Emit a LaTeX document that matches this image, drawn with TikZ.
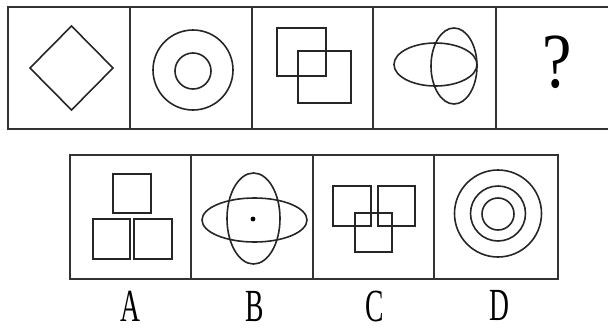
\documentclass[tikz,border=0pt]{standalone}
\usepackage{fontspec}
\setmainfont{Liberation Serif}
\begin{document}
\begin{tikzpicture}[x=1pt,y=-1pt,
  frame/.style={line width=2pt,draw=black!80},
  shp/.style={line width=1.6pt,draw=black!85},
  lbl/.style={inner sep=0pt,font=\fontsize{46}{46}\selectfont,xscale=0.6}]
\useasboundingbox (0,0) rectangle (608,327);
% top row frame
\draw[frame] (608,7) -- (8,7) -- (8,129) -- (608,129);
\foreach \x in {130,252,373,496} \draw[frame] (\x,7) -- (\x,129);
% panel 1 diamond
\draw[shp] (71.5,26) -- (113,68) -- (71.5,110) -- (30,68) -- cycle;
% panel 2 circles
\draw[shp] (193,70) circle (40);
\draw[shp] (193,71) circle (18);
% panel 3 squares
\draw[shp] (277,28) rectangle (326,76);
\draw[shp] (298,51) rectangle (351,103);
% panel 4 ellipses
\draw[shp] (435.5,64.5) ellipse (41.5 and 21.5);
\draw[shp] (454,66) ellipse (23 and 38);
% question mark
\node[inner sep=0pt,font=\fontsize{78}{78}\selectfont,xscale=0.85] (q) at (557,62) {?};
% bottom row frame
\draw[frame] (70,155) rectangle (558,279);
\foreach \x in {191,313,434} \draw[frame] (\x,155) -- (\x,279);
% A squares
\draw[shp] (113,174) rectangle (151,213);
\draw[shp] (93,219) rectangle (130,259);
\draw[shp] (134,219) rectangle (172,259);
% B ellipses
\draw[shp] (254.5,220) ellipse (52.5 and 22);
\draw[shp] (253.5,218.5) ellipse (26.5 and 45.5);
\fill[black] (253,219) circle (2.4);
% C squares
\draw[shp] (333,186) rectangle (371,226);
\draw[shp] (378,186) rectangle (415,226);
\draw[shp] (355,213) rectangle (392,252);
% D circles
\draw[shp] (498,213.5) circle (43.5);
\draw[shp] (498,213.5) circle (27.5);
\draw[shp] (498,214) circle (16);
% labels
\node[lbl,anchor=base] (la) at (130,321) {A};
\node[lbl,anchor=base] (lb) at (255,321) {B};
\node[lbl,anchor=base] (lc) at (375,321) {C};
\node[lbl,anchor=base] (ld) at (499,320) {D};
\end{tikzpicture}
\end{document}
